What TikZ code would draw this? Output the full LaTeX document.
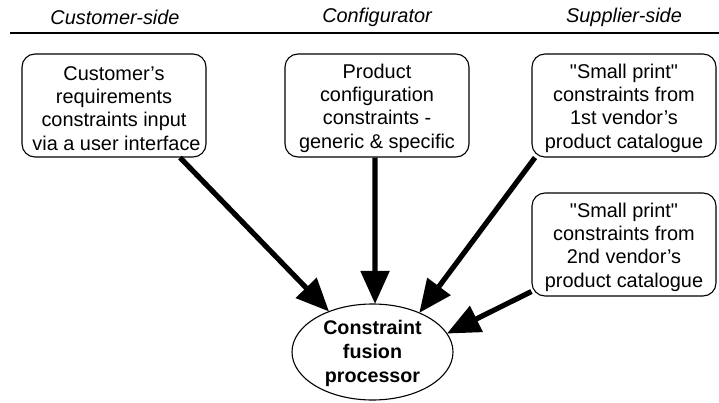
\documentclass[tikz,border=0pt]{standalone}
\usepackage{fontspec}
\setmainfont{Liberation Sans}
\usetikzlibrary{arrows.meta,shapes.geometric}
\newcommand\sq{\XeTeXglyph\XeTeXcharglyph"22\relax}
\newcommand\liftbox{\rule{0pt}{20pt}}
\newcommand\liftfus{\rule{0pt}{18pt}}
\tikzset{
  box/.style={draw,line width=1.1pt,rounded corners=13pt,minimum width=184pt,minimum height=103pt,inner sep=0pt,align=center,font=\fontsize{19.9pt}{23.1pt}\selectfont},
  head/.style={font=\fontsize{19.9pt}{23pt}\selectfont\itshape,inner sep=0pt},
  fus/.style={draw,ellipse,line width=1.1pt,minimum width=161pt,minimum height=96pt,inner sep=-10pt,align=center,font=\fontsize{19.7pt}{24pt}\selectfont\bfseries},
  feed/.style={line width=5.2pt,-{Triangle[length=33pt,width=28pt]},shorten >=-0.5pt}
}
\begin{document}
\begin{tikzpicture}[x=1pt,y=-1pt]
\useasboundingbox (0,0) rectangle (719,403);
\node[head] (h1) at (115,17) {Customer-side};
\node[head] (h2) at (377,17) {Configurator};
\node[head] (h3) at (624,17) {Supplier-side};
\coordinate (ruleL) at (10,33);
\coordinate (ruleR) at (719,33);
\draw[line width=1.3pt] (ruleL) -- (ruleR);
\node[box] (b1) at (114,105.5) {\liftbox Customer’s\\requirements\\constraints input\\\hspace*{5pt}via a user interface};
\node[box] (b2) at (377,105.5) {\liftbox Product\\configuration\\constraints -\\generic \& specific};
\node[box] (b3) at (624,105.5) {\liftbox\sq Small print\sq\\constraints from\\1st vendor’s\\product catalogue};
\node[box] (b4) at (624,244.5) {\liftbox\sq Small print\sq\\constraints from\\2nd vendor’s\\product catalogue};
\node[fus] (f) at (372.5,352) {\liftfus Constraint\\fusion\\processor};
\coordinate (s1) at ([xshift=66pt]b1.south);
\coordinate (s2) at ([xshift=-2pt]b2.south);
\coordinate (s3) at ([xshift=-89pt]b3.south);
\coordinate (s4) at ([yshift=5pt]b4.south west);
\draw[feed] (s1) -- (f.137);
\draw[feed] (s2) -- (f.87);
\draw[feed] (s3) -- (f.40);
\draw[feed] (s4) -- (f.14);
\end{tikzpicture}
\end{document}
